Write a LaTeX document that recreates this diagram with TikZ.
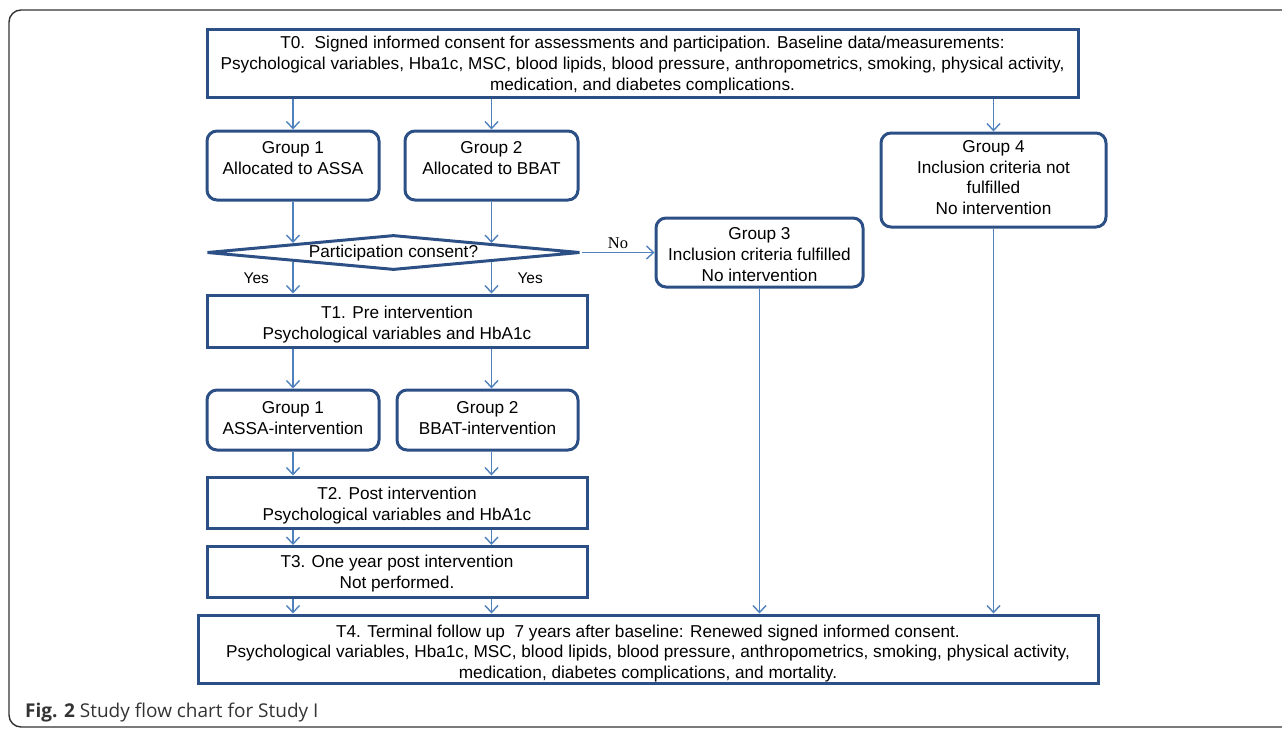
\documentclass[tikz,border=0pt]{standalone}
\usepackage{fontspec}
\setmainfont{Liberation Sans}
\newfontfamily\serifno{Liberation Serif}
\newfontfamily\capfont{Open Sans}
\usetikzlibrary{shapes.geometric, arrows.meta}
\definecolor{boxblue}{HTML}{2C5085}
\definecolor{linkblue}{HTML}{4F81BD}
\definecolor{framegray}{HTML}{333333}

\begin{document}
\begin{tikzpicture}[x=1pt, y=-1pt, font=\fontsize{17.2}{20.6}\selectfont,
    box/.style={draw=boxblue, line width=3pt, align=center, inner sep=0pt, text depth=0pt},
    roundbox/.style={box, rounded corners=10pt},
    link/.style={draw=linkblue, line width=1.4pt, -{Straight Barb[length=7pt, width=13pt]}},
    tag/.style={font=\fontsize{15.5}{17}\selectfont}]

    \useasboundingbox (0, 0) rectangle (1282, 729);
    \clip (0, 0) rectangle (1282, 729);

    % Outer frame (open to the right)
    \draw[framegray, line width=1.4pt, rounded corners=12pt] (1300, 10) -- (9, 10) -- (9, 727) -- (1300, 727);

    % Baseline T0
    \node (t0) at (642.5, 63) [box, minimum width=871pt, minimum height=68pt, text height=54pt] {T0.\ \ Signed informed consent for assessments and participation. Baseline data/measurements:\\Psychological variables, Hba1c, MSC, blood lipids, blood pressure, anthropometrics, smoking, physical activity,\\medication, and diabetes complications.};

    % Allocation
    \node (g1) at (293, 165.5) [roundbox, minimum width=172pt, minimum height=69pt, text height=17pt] {Group 1\\Allocated to ASSA};
    \node (g2) at (491.5, 165.5) [roundbox, minimum width=173pt, minimum height=69pt, text height=17pt] {Group 2\\Allocated to BBAT};
    \node (g4) at (993.5, 180) [roundbox, minimum width=225pt, minimum height=94pt, text height=68.6pt] {Group 4\\Inclusion criteria not\\fulfilled\\No intervention};

    % Consent decision
    \node (dia) at (393.5, 252.5) [diamond, draw=boxblue, line width=3pt, inner sep=0pt, aspect=10, minimum width=373pt, minimum height=35pt, text height=10.4pt, text depth=0pt] {Participation consent?};
    \node (g3) at (759.5, 252.5) [roundbox, minimum width=207pt, minimum height=69pt, text height=57pt] {Group 3\\Inclusion criteria fulfilled\\No intervention};

    % Intervention period
    \node (t1) at (397, 321) [box, minimum width=380pt, minimum height=52pt, text height=36pt] {T1. Pre intervention\\Psychological variables and HbA1c};
    \node (i1) at (293, 420) [roundbox, minimum width=172pt, minimum height=60pt, text height=28pt] {Group 1\\ASSA-intervention};
    \node (i2) at (487.5, 420) [roundbox, minimum width=181pt, minimum height=60pt, text height=28pt] {Group 2\\BBAT-intervention};
    \node (t2) at (397, 502.5) [box, minimum width=380pt, minimum height=51pt, text height=35pt] {T2. Post intervention\\Psychological variables and HbA1c};
    \node (t3) at (397, 572) [box, minimum width=380pt, minimum height=51pt, text height=32.6pt] {T3. One year post intervention\\Not performed.};

    % Follow up T4
    \node (t4) at (648, 649) [box, minimum width=900pt, minimum height=68pt, text height=58.6pt] {T4. Terminal follow up\ \ 7 years after baseline: Renewed signed informed consent.\\Psychological variables, Hba1c, MSC, blood lipids, blood pressure, anthropometrics, smoking, physical activity,\\medication, diabetes complications, and mortality.};

    % Connectors
    \draw[link] (t0.south -| g1.north) -- (g1.north);
    \draw[link] (t0.south -| g2.north) -- (g2.north);
    \draw[link] (t0.south -| g4.north) -- (g4.north);
    \draw[link] (g1.south) -- (g1.south |- dia.north west);
    \draw[link] (g2.south) -- (g2.south |- dia.north east);
    \draw[link] (g1.south |- dia.south west) -- (g1.south |- t1.north) node[midway, left=20pt, tag] {Yes};
    \draw[link] (g2.south |- dia.south east) -- (g2.south |- t1.north) node[midway, right=22pt, tag] {Yes};
    \draw[link] (dia.east) -- (g3.west) node[midway, above, font=\serifno\fontsize{16.5}{18}\selectfont] {No};
    \draw[link] (t1.south -| g1.south) -- (i1.north);
    \draw[link] (t1.south -| g2.south) -- (g2.south |- i2.north);
    \draw[link] (i1.south) -- (i1.south |- t2.north);
    \draw[link] (i2.south -| g2.south) -- (g2.south |- t2.north);
    \draw[link] (t2.south -| g1.south) -- (g1.south |- t3.north);
    \draw[link] (t2.south -| g2.south) -- (g2.south |- t3.north);
    \draw[link] (t3.south -| g1.south) -- (g1.south |- t4.north);
    \draw[link] (t3.south -| g2.south) -- (g2.south |- t4.north);
    \draw[link] (g3.south) -- (g3.south |- t4.north);
    \draw[link] (g4.south) -- (g4.south |- t4.north);

    % Caption
    \node (cap) at (25, 717) [anchor=base west, inner sep=0pt, text=framegray, font=\capfont\fontsize{19}{22}\selectfont] {\textbf{Fig. 2} Study flow chart for Study I};

\end{tikzpicture}
\end{document}
